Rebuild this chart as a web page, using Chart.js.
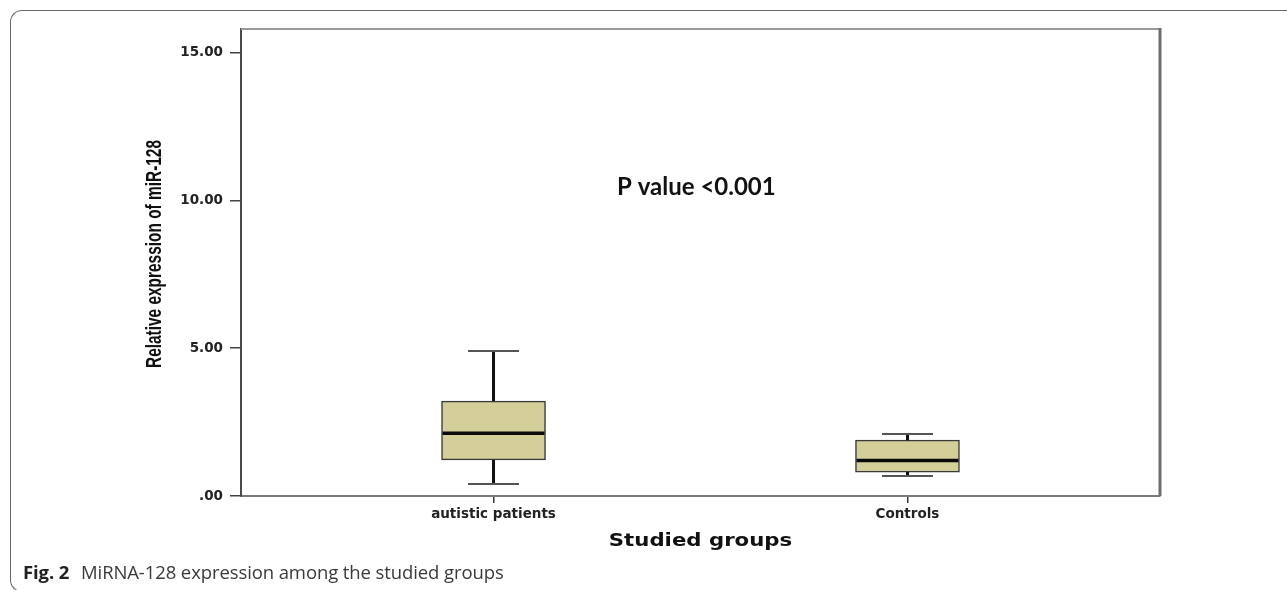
<!DOCTYPE html>
<html>
<head>
<meta charset="utf-8">
<script src="https://cdn.jsdelivr.net/npm/chart.js@4/dist/chart.umd.min.js"></script>
<style>
  html, body { margin: 0; padding: 0; background: #fff; overflow: hidden; }
  #wrap { position: relative; width: 1287px; height: 590px; overflow: hidden; }
  #frame {
    position: absolute; left: 10px; top: 10px; width: 1400px; height: 582px;
    border-top: 1.5px solid #6a6a6a; border-left: 1.5px solid #6a6a6a; border-bottom: 1.5px solid #6a6a6a;
    border-radius: 12px 0 0 12px; box-sizing: border-box;
  }
  #chart { position: absolute; left: 0; top: 0; }
  #caption {
    position: absolute; left: 23px; top: 559px;
    font-family: "Open Sans", "Noto Sans", sans-serif; font-size: 18.5px; color: #3a3a3a;
    white-space: nowrap; font-weight: 400; letter-spacing: -0.1px;
  }
  #caption b { font-weight: 700; color: #222; margin-right: 7px; }
</style>
</head>
<body>
<div id="wrap">
  <div id="frame"></div>
  <canvas id="chart" width="1287" height="590"></canvas>
  <div id="caption"><b>Fig. 2</b> MiRNA-128 expression among the studied groups</div>
</div>
<script>
// Studied groups and their box-plot summaries (relative expression of miR-128)
const groups = ['autistic patients', 'Controls'];
const whiskerLow = [0.41, 0.68];
const q1 = [1.22, 0.81];
const median = [2.12, 1.20];
const q3 = [3.21, 1.89];
const whiskerHigh = [4.91, 2.10];
const yTicks = [0, 5, 10, 15];

const yTitle = 'Relative expression of miR-128';
const xTitle = 'Studied groups';
const pLabel = 'P value <0.001';
const pLabelAt = { x: 0.49, y: 10.45 };

const boxFill = '#d4cf98';

// Whiskers, caps, medians, plot frame, titles and the P value note
const boxPlotExtras = {
  id: 'boxPlotExtras',
  afterDatasetsDraw(chart) {
    const { ctx, chartArea: a, scales: { x, y } } = chart;
    ctx.save();
    // top and right edges of the plot frame
    ctx.strokeStyle = '#9a9a9a';
    ctx.lineWidth = 2;
    ctx.beginPath();
    ctx.moveTo(a.left, a.top);
    ctx.lineTo(a.right, a.top);
    ctx.stroke();
    ctx.strokeStyle = '#6e6e6e';
    ctx.lineWidth = 3;
    ctx.beginPath();
    ctx.moveTo(a.right, a.top - 1);
    ctx.lineTo(a.right, a.bottom);
    ctx.stroke();

    groups.forEach((g, i) => {
      const cx = x.getPixelForValue(i);
      // whisker stems
      ctx.strokeStyle = '#111';
      ctx.lineWidth = 3;
      ctx.beginPath();
      ctx.moveTo(cx, y.getPixelForValue(whiskerHigh[i]));
      ctx.lineTo(cx, y.getPixelForValue(q3[i]));
      ctx.moveTo(cx, y.getPixelForValue(q1[i]));
      ctx.lineTo(cx, y.getPixelForValue(whiskerLow[i]));
      ctx.stroke();
      // caps
      ctx.strokeStyle = '#555';
      ctx.lineWidth = 2;
      ctx.beginPath();
      [whiskerHigh[i], whiskerLow[i]].forEach(v => {
        const py = Math.round(y.getPixelForValue(v));
        ctx.moveTo(cx - 25.5, py);
        ctx.lineTo(cx + 25.5, py);
      });
      ctx.stroke();
      // median
      ctx.strokeStyle = '#0a0a0a';
      ctx.lineWidth = 3.5;
      ctx.beginPath();
      const my = y.getPixelForValue(median[i]);
      ctx.moveTo(cx - 51, my);
      ctx.lineTo(cx + 51, my);
      ctx.stroke();
    });

    // P value note
    ctx.fillStyle = '#111';
    ctx.font = 'bold 24px Lato, "Open Sans", sans-serif';
    ctx.textAlign = 'center';
    ctx.textBaseline = 'middle';
    ctx.fillText(pLabel, x.getPixelForValue(pLabelAt.x), y.getPixelForValue(pLabelAt.y));

    // x axis title (wide bold face)
    ctx.save();
    ctx.translate((a.left + a.right) / 2, a.bottom + 46);
    ctx.scale(1.25, 1);
    ctx.font = 'bold 17px "DejaVu Sans", sans-serif';
    ctx.fillText(xTitle, 0, 0);
    ctx.restore();

    // y axis title (narrow bold face)
    ctx.save();
    ctx.translate(a.left - 86, a.top + 225);
    ctx.rotate(-Math.PI / 2);
    ctx.font = 'bold 22px "Liberation Sans", Arial, sans-serif';
    const w = ctx.measureText(yTitle).width;
    ctx.scale(228 / w, 1);
    ctx.fillText(yTitle, 0, 0);
    ctx.restore();

    ctx.restore();
  }
};

new Chart(document.getElementById('chart'), {
  type: 'bar',
  data: {
    datasets: [{
      data: groups.map((g, i) => ({ x: i, y: [q1[i], q3[i]] })),
      backgroundColor: boxFill,
      borderColor: '#3a3a3a',
      borderWidth: 1.5,
      borderSkipped: false,
      barThickness: 104
    }]
  },
  options: {
    responsive: false,
    animation: false,
    events: [],
    layout: { padding: { left: 0, top: 29, right: 127, bottom: 0 } },
    plugins: { legend: { display: false }, tooltip: { enabled: false } },
    scales: {
      x: {
        type: 'linear',
        offset: false,
        min: -0.61,
        max: 1.61,
        afterBuildTicks: s => { s.ticks = groups.map((g, i) => ({ value: i })); },
        afterFit: s => { s.height = 94; },
        grid: { offset: false, drawOnChartArea: false, drawTicks: true, tickLength: 7, color: '#333', lineWidth: 1.5 },
        border: { display: true, color: '#7a7a7a', width: 2 },
        ticks: {
          padding: 3,
          color: '#222',
          font: { family: '"DejaVu Sans", sans-serif', size: 13.5, weight: 'bold' },
          callback: v => groups[v] ?? ''
        }
      },
      y: {
        min: 0,
        max: 15.8,
        afterBuildTicks: s => { s.ticks = yTicks.map(v => ({ value: v })); },
        afterFit: s => { s.width = 241; },
        grid: { drawOnChartArea: false, drawTicks: true, tickLength: 11, color: '#444', lineWidth: 1.5 },
        border: { display: true, color: '#4a4a4a', width: 2 },
        ticks: {
          padding: 7,
          color: '#222',
          font: { family: '"DejaVu Sans", sans-serif', size: 13.5, weight: 'bold' },
          callback: v => v.toFixed(2).replace(/^0/, '')
        }
      }
    }
  },
  plugins: [boxPlotExtras]
});
</script>
</body>
</html>
